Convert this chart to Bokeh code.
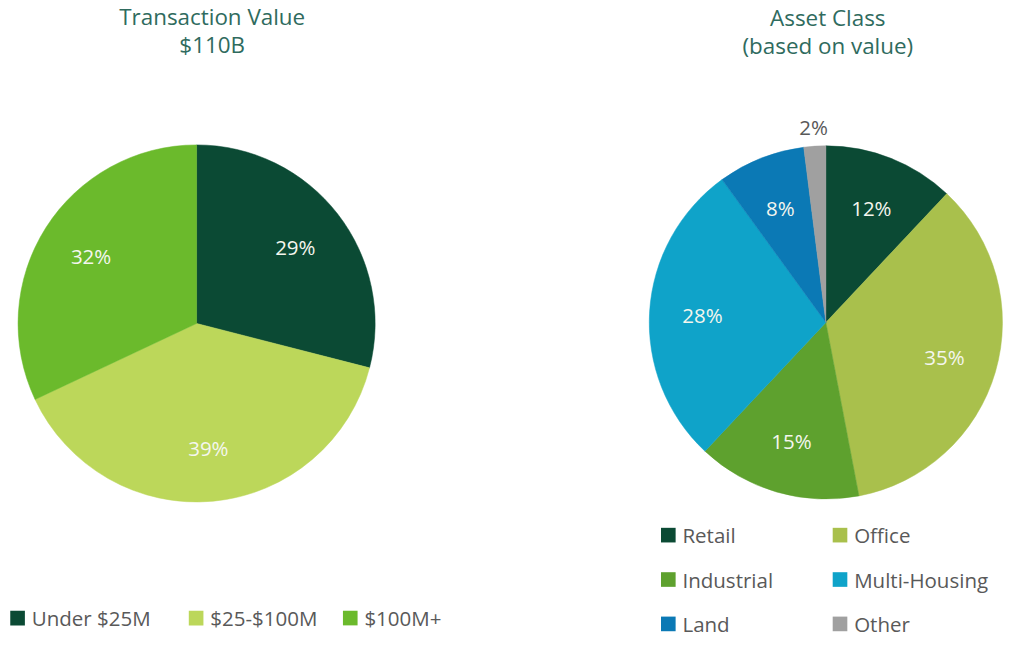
import math
from bokeh.plotting import figure
from bokeh.models import Range1d, ColumnDataSource
from bokeh.core.properties import value
from bokeh.embed import file_html
from bokeh.resources import INLINE

# ---- data ----
tv_categories = ["Under $25M", "$25-$100M", "$100M+"]
tv_values = [29, 39, 32]
tv_colors = ["#0b4a34", "#bcd75a", "#6bba2c"]

ac_categories = ["Retail", "Office", "Industrial", "Multi-Housing", "Land", "Other"]
ac_values = [12, 35, 15, 28, 8, 2]
ac_colors = ["#0b4a34", "#a9c04c", "#5ea12e", "#0fa3c9", "#0b79b5", "#a0a0a0"]

left_title = ["Transaction Value", "$110B"]
right_title = ["Asset Class", "(based on value)"]

FONT = "Open Sans"
W, H = 1013, 640
REF_H = 656
SCALE = H / REF_H          # uniform scale from reference pixels to figure pixels
REF_W = W / SCALE
Y_SHIFT = -6               # move the content slightly upward so nothing is clipped
TITLE_COLOR = "#2f6b5e"
TEXT_GRAY = "#595959"

def fs(px):
    return f"{px * SCALE:.1f}px"

p = figure(width=W, height=H, output_backend="svg", toolbar_location=None,
           x_range=Range1d(0, REF_W), y_range=Range1d(Y_SHIFT, REF_H + Y_SHIFT),
           min_border=0)
p.axis.visible = False
p.grid.visible = False
p.outline_line_color = None
p.background_fill_color = "white"
p.border_fill_color = "white"

def Y(py):
    return REF_H - py


def draw_pie(cx, cy, r, vals, cols, label_frac, out_frac):
    total = float(sum(vals))
    starts, ends, lx, ly, ltxt, lcol = [], [], [], [], [], []
    acc = 0.0
    for v in vals:
        a0 = acc / total
        acc += v
        a1 = acc / total
        starts.append(math.pi / 2 - 2 * math.pi * a0)
        ends.append(math.pi / 2 - 2 * math.pi * a1)
        mid = math.pi / 2 - 2 * math.pi * (a0 + a1) / 2
        inside = v >= 5
        f = label_frac if inside else out_frac
        lx.append(cx + f * r * math.cos(mid))
        ly.append(Y(cy) + f * r * math.sin(mid))
        ltxt.append(f"{v}%")
        lcol.append("#f4f6ee" if inside else TEXT_GRAY)
    src = ColumnDataSource(dict(x=[cx] * len(vals), y=[Y(cy)] * len(vals),
                                s=starts, e=ends, c=cols))
    p.wedge(x="x", y="y", radius=r, start_angle="s", end_angle="e",
            direction="clock", fill_color="c", line_color="c", line_width=0.5,
            source=src)
    lsrc = ColumnDataSource(dict(x=lx, y=ly, t=ltxt, c=lcol))
    p.text(x="x", y="y", text="t", text_color="c", text_font=value(FONT),
           text_font_size=fs(21), text_align="center", text_baseline="middle",
           source=lsrc)


draw_pie(201, 337, 183, tv_values, tv_colors, 0.70, 1.1)
draw_pie(846, 336, 181, ac_values, ac_colors, 0.70, 1.11)

# titles
for lines, cx, y0, dy in [(left_title, 217, 22, 29), (right_title, 848, 23, 29)]:
    p.text(x=[cx] * len(lines), y=[Y(y0 + i * dy) for i in range(len(lines))],
           text=lines, text_color=TITLE_COLOR, text_font=value(FONT),
           text_font_size=fs(23), text_align="center", text_baseline="middle")

# legends
def draw_legend(cats, cols, col_x, y0, row_h, ncols):
    xs, ys, tx, ty = [], [], [], []
    for i, _ in enumerate(cats):
        c = i % ncols
        rr = i // ncols
        sx = col_x[c]
        sy = y0 + rr * row_h
        xs.append(sx + 7.5)
        ys.append(Y(sy))
        tx.append(sx + 22)
        ty.append(Y(sy))
    p.rect(x=xs, y=ys, width=15, height=15, fill_color=cols, line_color=None)
    p.text(x=tx, y=ty, text=cats, text_color=TEXT_GRAY, text_font=value(FONT),
           text_font_size=fs(21), text_align="left", text_baseline="middle")

draw_legend(tv_categories, tv_colors, [10, 193, 351], 639, 0, 3)
draw_legend(ac_categories, ac_colors, [677, 853], 554, 45.5, 2)

open("out.html", "w").write(file_html(p, INLINE))
